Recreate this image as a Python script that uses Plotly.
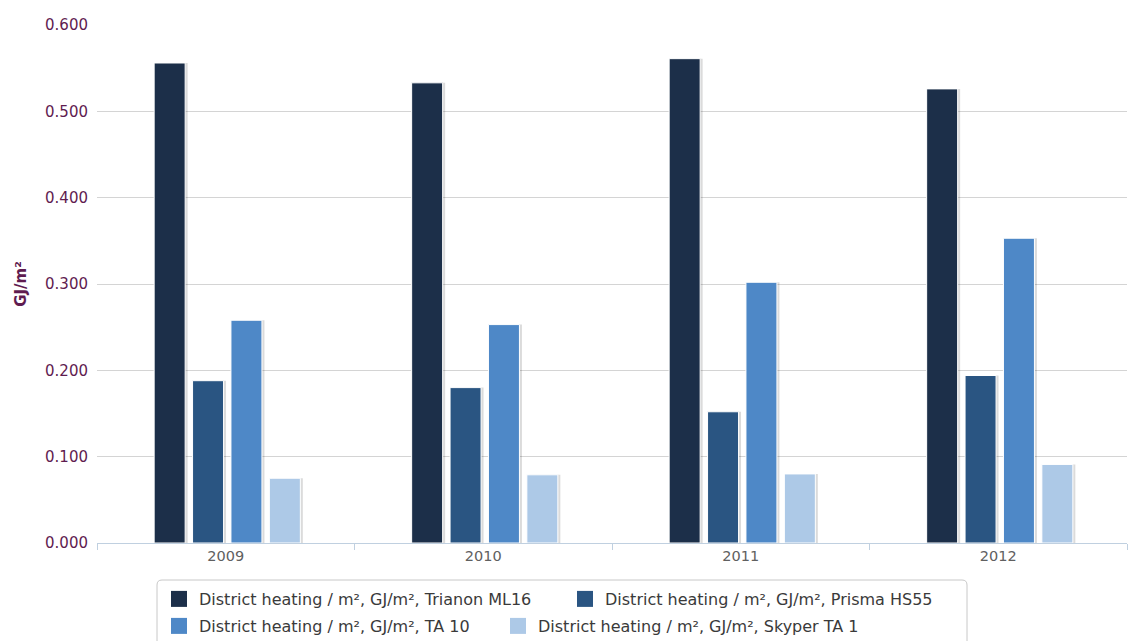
import plotly.graph_objects as go

# Annual district heating intensity per building (GJ/m²)
years = ["2009", "2010", "2011", "2012"]
trianon_ml16 = [0.556, 0.533, 0.561, 0.526]
prisma_hs55 = [0.188, 0.180, 0.152, 0.194]
ta_10 = [0.258, 0.253, 0.302, 0.353]
skyper_ta_1 = [0.075, 0.079, 0.080, 0.091]

series_names = [
    "District heating / m², GJ/m², Trianon ML16",
    "District heating / m², GJ/m², Prisma HS55",
    "District heating / m², GJ/m², TA 10",
    "District heating / m², GJ/m², Skyper TA 1",
]
series_values = [trianon_ml16, prisma_hs55, ta_10, skyper_ta_1]
colors = ["#1c2f49", "#2a5582", "#4e88c7", "#adc9e7"]

FONT = "DejaVu Sans"
W, H = 1131, 641
M_L, M_R, M_T, M_B = 97, 4, 25, 98
plot_w = W - M_L - M_R
plot_h = H - M_T - M_B
cat_px = plot_w / len(years)

# bar slot geometry (pixels -> category units)
pitch_px, bar_px, nudge_px = 38.4, 31.0, 1.5
pitch = pitch_px / cat_px
bar_w = bar_px / cat_px
start = -2 * pitch + (pitch - bar_w) / 2 + nudge_px / cat_px
shadow_dx = 2.5 / cat_px

legend_assign = ["legend", "legend", "legend2", "legend2"]
legend_widths = [361, 0, 294, 0]


def py(pixel_y):
    """Convert a pixel row to a paper y coordinate."""
    return (M_T + plot_h - pixel_y) / plot_h


def px(pixel_x):
    """Convert a pixel column to a paper x coordinate."""
    return (pixel_x - M_L) / plot_w


fig = go.Figure()
for i, (name, vals, col) in enumerate(zip(series_names, series_values, colors)):
    off = start + i * pitch
    group = f"s{i}"
    # soft drop shadow behind each bar
    fig.add_trace(go.Bar(
        x=years, y=vals, offset=off + shadow_dx, width=bar_w,
        marker=dict(color="rgba(0,0,0,0.14)", line=dict(width=0)),
        showlegend=False, hoverinfo="skip", legendgroup=group,
    ))
    fig.add_trace(go.Bar(
        x=years, y=vals, name=name, offset=off, width=bar_w,
        marker=dict(color=col, line=dict(color="#ffffff", width=1)),
        showlegend=False, legendgroup=group,
    ))
    # legend key with a larger square swatch
    fig.add_trace(go.Scatter(
        x=[None], y=[None], mode="markers", name=name,
        marker=dict(symbol="square", size=16, color=col),
        legend=legend_assign[i], legendwidth=legend_widths[i],
        legendgroup=group, hoverinfo="skip",
    ))

# rounded frame around the legend rows
x0, x1 = px(157), px(967)
y0, y1 = py(580), py(660)
rx, ry = 5 / plot_w, 5 / plot_h
frame = (
    f"M {x0 + rx},{y0} L {x1 - rx},{y0} Q {x1},{y0} {x1},{y0 - ry} "
    f"L {x1},{y1 + ry} Q {x1},{y1} {x1 - rx},{y1} L {x0 + rx},{y1} "
    f"Q {x0},{y1} {x0},{y1 + ry} L {x0},{y0 - ry} Q {x0},{y0} {x0 + rx},{y0} Z"
)

legend_common = dict(
    orientation="h", xanchor="left", yanchor="top",
    font=dict(family=FONT, size=16, color="#3a3a3a"),
    bgcolor="rgba(0,0,0,0)", borderwidth=0, itemclick=False,
    itemdoubleclick=False, itemsizing="trace",
)

fig.update_layout(
    width=W, height=H,
    margin=dict(l=M_L, r=M_R, t=M_T, b=M_B, autoexpand=False),
    paper_bgcolor="#ffffff", plot_bgcolor="#ffffff",
    barmode="overlay",
    font=dict(family=FONT),
    shapes=[dict(type="path", path=frame, xref="paper", yref="paper",
                 line=dict(color="#c8c8c8", width=1), fillcolor="rgba(0,0,0,0)",
                 layer="below")],
    legend=dict(x=px(159), y=py(582), **legend_common),
    legend2=dict(x=px(159), y=py(609), **legend_common),
    xaxis=dict(
        type="category", categoryorder="array", categoryarray=years,
        range=[-0.5, len(years) - 0.5],
        showgrid=False, zeroline=False,
        showline=True, linecolor="#c0d0e0", linewidth=1,
        ticks="outside", tickson="boundaries", ticklen=6,
        tickcolor="#c0d0e0", tickwidth=1,
        tickfont=dict(family=FONT, size=14.5, color="#606060"),
    ),
    yaxis=dict(
        range=[0, 0.6], dtick=0.1, tickformat=".3f",
        showgrid=True, gridcolor="#d4d4d4", gridwidth=1,
        zeroline=False, showline=False, ticks="",
        ticklabelstandoff=8,
        tickfont=dict(family=FONT, size=15, color="#5f1c50"),
        title=dict(text="<b>GJ/m²</b>", standoff=14,
                   font=dict(family=FONT, size=15, color="#5f1c50")),
    ),
)

fig.write_html("out.html")
